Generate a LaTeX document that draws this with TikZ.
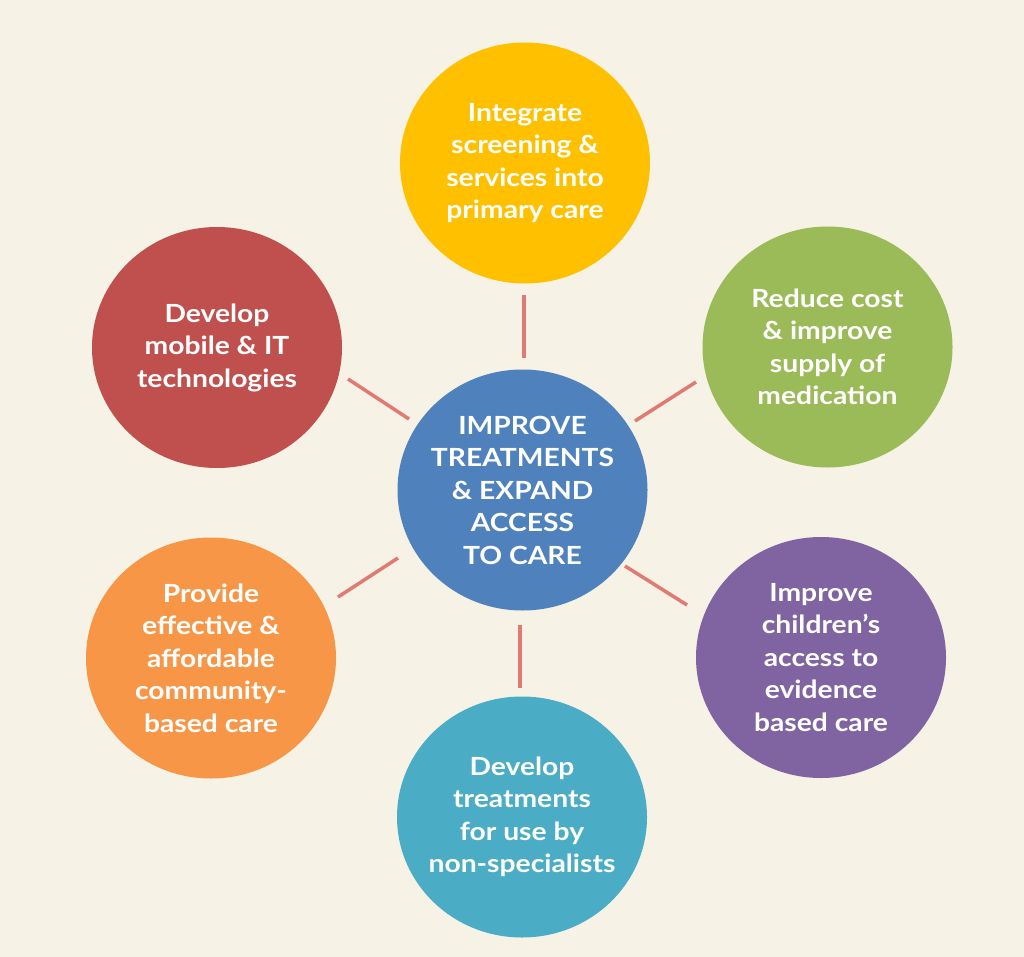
\documentclass[tikz,border=0pt]{standalone}
\usepackage{fontspec}
\setmainfont{Lato}[FakeStretch=1.13]
\usetikzlibrary{shapes.geometric}
\definecolor{bg}{HTML}{F6F2E5}
\definecolor{cblue}{HTML}{4F81BD}
\definecolor{cyellow}{HTML}{FFC000}
\definecolor{cgreen}{HTML}{9BBB59}
\definecolor{cpurple}{HTML}{8064A2}
\definecolor{cteal}{HTML}{4BACC6}
\definecolor{corange}{HTML}{F79646}
\definecolor{cred}{HTML}{C0504D}
\definecolor{spokecol}{HTML}{E07A72}
\begin{document}
\begin{tikzpicture}[x=1pt,y=-1pt,
  bubble/.style={ellipse, minimum width=250pt, minimum height=241pt, inner sep=0pt},
  btext/.style={inner sep=0pt, text=white, align=center, font=\fontsize{25}{32.5}\selectfont\bfseries},
  spoke/.style={draw=spokecol, line width=3.5pt}]
\fill[bg] (0,0) rectangle (1024,957);
\useasboundingbox (0,0) rectangle (1024,957);

\node[bubble, fill=cblue]   (c)  at (522.5,490) {};
\node[bubble, fill=cyellow] (n1) at (525,163)   {};
\node[bubble, fill=cgreen]  (n2) at (827.5,347) {};
\node[bubble, fill=cpurple] (n3) at (821,657.5) {};
\node[bubble, fill=cteal]   (n4) at (522,817)   {};
\node[bubble, fill=corange] (n5) at (211,658)   {};
\node[bubble, fill=cred]    (n6) at (217,347.5) {};

\node[btext] (ct)  at (c)  {IMPROVE\\TREATMENTS\\\& EXPAND\\ACCESS\\TO CARE};
\node[btext] (n1t) at (n1) {Integrate\\screening \&\\services into\\primary care};
\node[btext] (n2t) at (n2) {Reduce cost\\\& improve\\supply of\\medication};
\node[btext] (n3t) at (n3) {Improve\\children’s\\access to\\evidence\\based care};
\node[btext] (n4t) at (n4) {Develop\\treatments\\for use by\\non-specialists};
\node[btext] (n5t) at (n5) {Provide\\effective \&\\affordable\\community-\\based care};
\node[btext] (n6t) at (n6) {Develop\\mobile \& IT\\technologies};

\coordinate (s1a) at (524,358); \coordinate (s1b) at (524,295);
\coordinate (s2a) at (635,421); \coordinate (s2b) at (696,382);
\coordinate (s3a) at (625,566); \coordinate (s3b) at (687,605);
\coordinate (s4a) at (520,625); \coordinate (s4b) at (520,688);
\coordinate (s5a) at (398,558); \coordinate (s5b) at (338,597);
\coordinate (s6a) at (409,419); \coordinate (s6b) at (348,379);

\draw[spoke] (s1a) -- (s1b);
\draw[spoke] (s2a) -- (s2b);
\draw[spoke] (s3a) -- (s3b);
\draw[spoke] (s4a) -- (s4b);
\draw[spoke] (s5a) -- (s5b);
\draw[spoke] (s6a) -- (s6b);
\end{tikzpicture}
\end{document}
